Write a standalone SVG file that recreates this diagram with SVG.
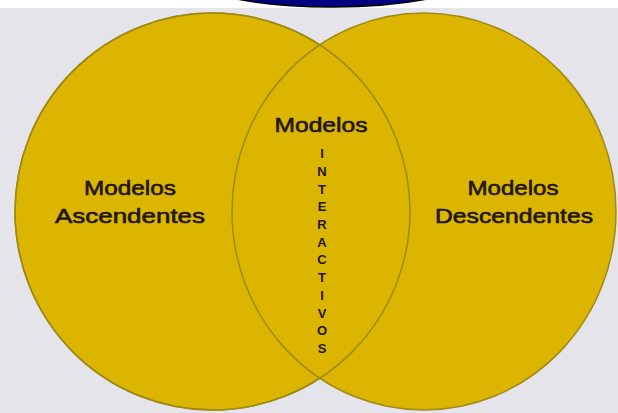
<svg xmlns="http://www.w3.org/2000/svg" width="618" height="413" viewBox="0 0 618 413">
<style>
.circ{fill:#dcb500;stroke:#9e8a14;stroke-width:1.5}
.lbl{font-family:"Liberation Sans",Arial,sans-serif;font-size:20px;fill:#22160a;stroke:#22160a;stroke-width:0.6;text-anchor:middle}
.v{font-family:"Liberation Sans",Arial,sans-serif;font-size:13px;font-weight:bold;fill:#22160a;text-anchor:middle}
</style>
<rect x="0" y="0" width="618" height="413" fill="#e4e4ea"/>
<rect x="0" y="0" width="618" height="8" fill="#ffffff"/>
<ellipse cx="332" cy="-40" rx="170" ry="47" fill="#000080" stroke="#000000" stroke-width="1.5"/>
<g id="left">
<ellipse class="circ" cx="212.5" cy="211.5" rx="197.5" ry="198.5"/>
</g>
<g id="right">
<ellipse class="circ" cx="424" cy="211.5" rx="192" ry="198.5"/>
</g>
<g id="lens-outline">
<ellipse cx="212.5" cy="211.5" rx="197.5" ry="198.5" fill="none" stroke="#9e8a14" stroke-width="1.5"/>
</g>
<g id="label-asc">
<text class="lbl" x="130" y="195" textLength="92" lengthAdjust="spacingAndGlyphs">Modelos</text>
<text class="lbl" x="130" y="223" textLength="150" lengthAdjust="spacingAndGlyphs">Ascendentes</text>
</g>
<g id="label-desc">
<text class="lbl" x="513" y="195" textLength="91" lengthAdjust="spacingAndGlyphs">Modelos</text>
<text class="lbl" x="514" y="223" textLength="158" lengthAdjust="spacingAndGlyphs">Descendentes</text>
</g>
<g id="label-inter">
<text class="lbl" x="321" y="132" textLength="93" lengthAdjust="spacingAndGlyphs">Modelos</text>
<text class="v" x="322" y="158">I</text>
<text class="v" x="322" y="175.7">N</text>
<text class="v" x="322" y="193.5">T</text>
<text class="v" x="322" y="211.2">E</text>
<text class="v" x="322" y="228.9">R</text>
<text class="v" x="322" y="246.7">A</text>
<text class="v" x="322" y="264.4">C</text>
<text class="v" x="322" y="282.1">T</text>
<text class="v" x="322" y="299.8">I</text>
<text class="v" x="322" y="317.6">V</text>
<text class="v" x="322" y="335.3">O</text>
<text class="v" x="322" y="353">S</text>
</g>
</svg>
